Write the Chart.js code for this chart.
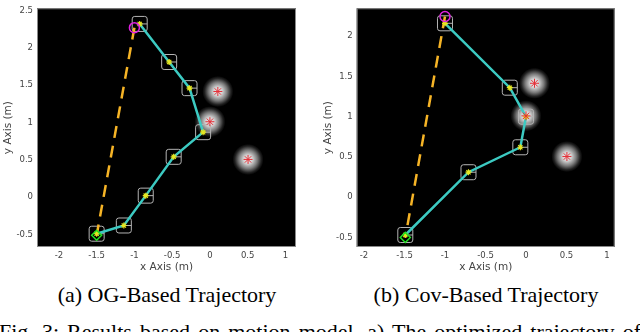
<!DOCTYPE html>
<html>
<head>
<meta charset="utf-8">
<script src="https://cdn.jsdelivr.net/npm/chart.js@4.4.1/dist/chart.umd.min.js"></script>
<style>
    html, body { margin: 0; padding: 0; background: #fff; }
    #page { position: relative; width: 640px; height: 332px; overflow: hidden; background: #fff; }
    .plot { position: absolute; top: 0; width: 320px; height: 280px; }
    .caption {
        position: absolute; top: 284px;
        font-family: "Liberation Serif", "Times New Roman", serif;
        font-size: 22px; line-height: 22px; color: #000;
        white-space: nowrap; transform: translateX(-50%);
    }
    #fig {
        position: absolute; left: -1px; top: 321px; width: 642px;
        font-family: "Liberation Serif", "Times New Roman", serif;
        font-size: 22px; line-height: 22px; color: #000;
        text-align: justify; text-align-last: justify;
    }
</style>
</head>
<body>
<div id="page">
    <div class="plot" style="left:0"><canvas id="ogChart"></canvas></div>
    <div class="plot" style="left:320px"><canvas id="covChart"></canvas></div>
    <div class="caption" style="left:167px">(a) OG-Based Trajectory</div>
    <div class="caption" style="left:486px">(b) Cov-Based Trajectory</div>
    <div id="fig">Fig. 3: Results based on motion model. a) The optimized trajectory of</div>
</div>
<script>
// tick labels
const xTicks = [-2, -1.5, -1, -0.5, 0, 0.5, 1];
const yTicksOG = [-0.5, 0, 0.5, 1, 1.5, 2, 2.5];
const yTicksCov = [-0.5, 0, 0.5, 1, 1.5, 2];

// obstacles (same scene in both runs)
const obsX = [0.105, 0.0, 0.505];
const obsY = [1.415, 1.01, 0.505];

// OG-based trajectory waypoints
const ogX = [-0.93, -0.54, -0.27, -0.09, -0.48, -0.85, -1.14, -1.50];
const ogY = [2.32, 1.81, 1.46, 0.87, 0.54, 0.02, -0.38, -0.49];
const ogStart = [-1.0, 2.27];
const ogGoal = [-1.5, -0.51];

// Cov-based trajectory waypoints
const covX = [-1.0, -0.20, 0.0, -0.07, -0.71, -1.49];
const covY = [2.16, 1.36, 1.0, 0.62, 0.31, -0.47];
const covStart = [-1.0, 2.245];
const covGoal = [-1.49, -0.5];

const toPts = (xs, ys) => xs.map((x, i) => ({x: x, y: ys[i]}));

/**
 * fond noir, halos des obstacles et carrés du robot
 */
const scenePlugin = {
    id: 'scene',
    beforeDatasetsDraw(chart, args, opts) {
        const {ctx, chartArea: a, scales: {x, y}} = chart;
        ctx.save();
        ctx.fillStyle = '#000';
        ctx.fillRect(a.left, a.top, a.right - a.left, a.bottom - a.top);
        ctx.beginPath();
        ctx.rect(a.left, a.top, a.right - a.left, a.bottom - a.top);
        ctx.clip();

        // halos
        obsX.forEach((ox, i) => {
            const px = x.getPixelForValue(ox);
            const py = y.getPixelForValue(obsY[i]);
            const r = 15.5;
            const g = ctx.createRadialGradient(px, py, 0, px, py, r);
            g.addColorStop(0, '#f2f2f2');
            g.addColorStop(0.3, '#cfcfcf');
            g.addColorStop(0.6, '#7a7a7a');
            g.addColorStop(0.85, '#222');
            g.addColorStop(1, '#000');
            ctx.fillStyle = g;
            ctx.beginPath();
            ctx.arc(px, py, r, 0, Math.PI * 2);
            ctx.fill();
        });

        // carrés
        ctx.strokeStyle = '#b4b4b4';
        ctx.lineWidth = 1;
        opts.xs.forEach((wx, i) => {
            const px = x.getPixelForValue(wx);
            const py = y.getPixelForValue(opts.ys[i]);
            const h = 7.5;
            ctx.beginPath();
            ctx.roundRect(px - h, py - h, h * 2, h * 2, 2.5);
            ctx.stroke();
            ctx.beginPath();
            ctx.moveTo(px, py);
            ctx.lineTo(px + h, py);
            ctx.stroke();
        });
        ctx.restore();
    },
    afterDraw(chart) {
        const {ctx, chartArea: a} = chart;
        ctx.save();
        ctx.strokeStyle = '#8a8a8a';
        ctx.lineWidth = 1;
        ctx.strokeRect(a.left + 0.5, a.top + 0.5, a.right - a.left - 1, a.bottom - a.top - 1);
        ctx.restore();
    }
};

function makeChart(id, cfg) {
    const ctx = document.getElementById(id);
    const tickFont = {family: 'DejaVu Sans', size: 8.5, lineHeight: 1};
    const titleFont = {family: 'DejaVu Sans', size: 10.5, lineHeight: 1.2};

    return new Chart(ctx.getContext('2d'), {
        type: 'scatter',
        data: {
            datasets: [{
                // départ
                data: [{x: cfg.start[0], y: cfg.start[1]}],
                pointStyle: 'circle',
                pointRadius: 5,
                borderColor: '#e020e0',
                backgroundColor: 'rgba(0,0,0,0)',
                borderWidth: 1.5
            }, {
                // arrivée
                data: [{x: cfg.goal[0], y: cfg.goal[1]}],
                pointStyle: 'rectRot',
                pointRadius: 5,
                borderColor: '#22e022',
                backgroundColor: 'rgba(0,0,0,0)',
                borderWidth: 1.5
            }, {
                // obstacles
                data: toPts(obsX, obsY),
                pointStyle: 'star',
                pointRadius: 4.5,
                borderColor: '#e43038',
                backgroundColor: '#e43038',
                borderWidth: 1
            }, {
                // trajectoire optimisée
                data: toPts(cfg.xs, cfg.ys),
                showLine: true,
                borderColor: '#3ccac2',
                borderWidth: 2.5,
                pointStyle: 'star',
                pointRadius: 3,
                pointBorderColor: '#e6e620',
                pointBackgroundColor: '#e6e620',
                pointBorderWidth: 1.2
            }, {
                // ligne droite initiale
                data: [{x: cfg.start[0], y: cfg.start[1]}, {x: cfg.goal[0], y: cfg.goal[1]}],
                showLine: true,
                borderColor: '#f6b426',
                borderWidth: 2.5,
                borderDash: [12, 8],
                pointRadius: 0
            }]
        },
        options: {
            responsive: true,
            maintainAspectRatio: false,
            animation: false,
            events: [],
            layout: {
                padding: {top: 5, right: cfg.padRight, left: 0, bottom: 0}
            },
            plugins: {
                legend: {display: false},
                tooltip: {enabled: false},
                scene: {xs: cfg.xs, ys: cfg.ys}
            },
            scales: {
                x: {
                    type: 'linear',
                    min: cfg.xMin,
                    max: cfg.xMax,
                    afterBuildTicks: s => { s.ticks = xTicks.map(v => ({value: v})); },
                    afterFit: s => { s.height = 33; },
                    grid: {display: false, drawTicks: false},
                    border: {display: false},
                    ticks: {
                        padding: 5,
                        maxRotation: 0,
                        color: '#444',
                        font: tickFont,
                        callback: v => String(v)
                    },
                    title: {
                        display: true,
                        text: 'x Axis (m)',
                        color: '#444',
                        font: titleFont,
                        padding: {top: 0, bottom: 6}
                    }
                },
                y: {
                    type: 'linear',
                    min: cfg.yMin,
                    max: cfg.yMax,
                    afterBuildTicks: s => { s.ticks = cfg.yTicks.map(v => ({value: v})); },
                    afterFit: s => { s.width = cfg.axisW; },
                    grid: {display: false, drawTicks: false},
                    border: {display: false},
                    ticks: {
                        padding: 4,
                        color: '#444',
                        font: tickFont,
                        callback: v => String(v)
                    },
                    title: {
                        display: true,
                        text: 'y Axis (m)',
                        color: '#444',
                        font: titleFont,
                        padding: {top: 2, bottom: 0}
                    }
                }
            }
        },
        plugins: [scenePlugin]
    });
}

makeChart('ogChart', {
    xs: ogX, ys: ogY, start: ogStart, goal: ogGoal,
    xMin: -2.29, xMax: 1.14, yMin: -0.668, yMax: 2.53,
    yTicks: yTicksOG, axisW: 37, padRight: 24
});

makeChart('covChart', {
    xs: covX, ys: covY, start: covStart, goal: covGoal,
    xMin: -2.09, xMax: 1.095, yMin: -0.619, yMax: 2.347,
    yTicks: yTicksCov, axisW: 36.7, padRight: 25.3
});
</script>
</body>
</html>
